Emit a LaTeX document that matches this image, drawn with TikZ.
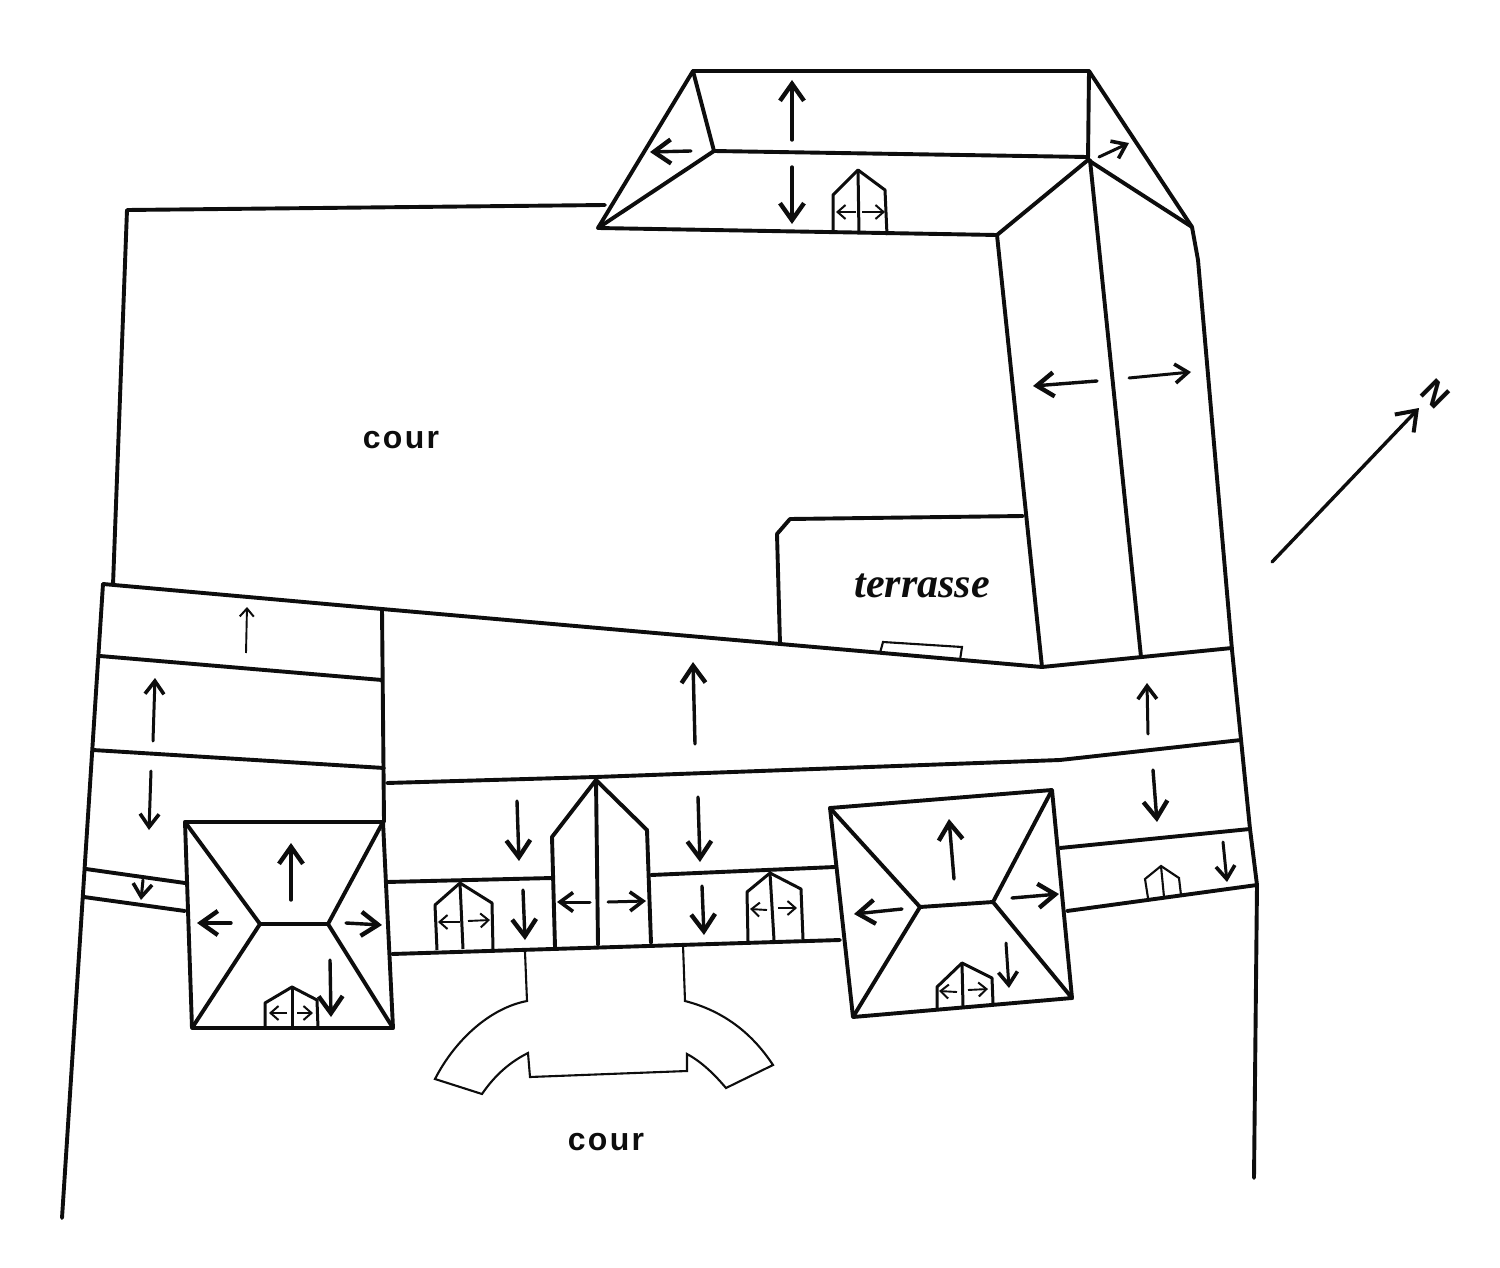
\documentclass[tikz,border=0pt]{standalone}
\usepackage{fontspec}
\setsansfont{Liberation Sans}
\newfontfamily\terrfont{Liberation Serif}
\usetikzlibrary{arrows.meta}
\definecolor{ink}{HTML}{0D0D0D}
\tikzset{
  wall/.style={draw=ink,line width=1.95pt,line join=round,line cap=round},
  fine/.style={draw=ink,line width=1.05pt,line join=miter},
  dormerline/.style={draw=ink,line width=1.5pt,line join=round},
  bigarrow/.style={draw=ink,line width=1.7pt,line cap=round,-{Straight Barb[length=8.5pt,width=12pt,line width=2.2pt]}},
  midarrow/.style={draw=ink,line width=1.5pt,line cap=round,-{Straight Barb[length=6.5pt,width=9.5pt,line width=1.8pt]}},
  tinyarrow/.style={draw=ink,line width=0.95pt,-{Straight Barb[length=4pt,width=7pt,line width=1pt]}},
  courlabel/.style={font=\sffamily\bfseries\fontsize{16}{18}\selectfont\addfontfeature{LetterSpace=7},text=ink,inner sep=0pt}
}
\begin{document}
\begin{tikzpicture}[x=0.5pt,y=-0.5pt]
\useasboundingbox (0,0) rectangle (1500,1268);
\fill[white] (0,0) rectangle (1500,1268);
% top wing roof
\draw[wall] (598,228)--(693,71)--(1089,71)--(1192,227);
\draw[wall] (693,71)--(714,151)--(1087,157);
\draw[wall] (598,228)--(714,151);
\draw[wall] (598,228)--(997,235);
\draw[wall] (1089,71)--(1088,160);
\draw[wall] (997,235)--(1088,160)--(1192,227);
% court wall
\draw[wall] (605,205)--(127,210)--(113,585);
% east wing
\draw[wall] (1090,160)--(1141,657);
\draw[wall] (997,235)--(1042,667);
\draw[wall] (1192,227)--(1198,260)--(1232,650)--(1250,829)--(1257,885)--(1254,1178);
% main ridge and left wing
\draw[wall] (103,584)--(62,1218);
\draw[wall] (103,584)--(382,609)--(1042,667)--(1232,648);
\draw[wall] (382,609)--(384,822);
\draw[wall] (100,656)--(382,680);
\draw[wall] (93,750)--(384,768);
\draw[wall] (86,869)--(185,883);
\draw[wall] (84,897)--(185,911);
% central band
\draw[wall] (387,783)--(596,777)--(1060,760)--(1241,740);
\draw[wall] (387,882)--(552,878);
\draw[wall] (651,875)--(835,867);
\draw[wall] (392,954)--(840,940);
\draw[wall] (1060,848)--(1250,829);
\draw[wall] (1067,911)--(1257,885);
% central gable
\draw[wall] (555,947)--(552,837)--(596,780)--(647,830)--(651,943);
\draw[wall] (596,780)--(598,945);
% left pavilion
\draw[wall] (185,822)--(383,822)--(393,1028)--(192,1028)--cycle;
\draw[wall] (185,822)--(260,924)--(192,1028);
\draw[wall] (383,822)--(328,924)--(393,1028);
\draw[wall] (260,924)--(328,924);
% right pavilion
\draw[wall] (830,808)--(1052,790)--(1072,998)--(853,1017)--cycle;
\draw[wall] (830,808)--(920,907)--(853,1017);
\draw[wall] (1052,790)--(993,902)--(1072,998);
\draw[wall] (920,907)--(993,902);
% terrace
\draw[wall] (1023,516)--(790,519)--(777,534)--(780,644);
\draw[fine] (880,653)--(883,642)--(962,647)--(960,660);
% entrance
\draw[fine] (525,952)--(527,1001) .. controls (490,1008) and (455,1040) .. (435,1079)
  --(482,1094) .. controls (495,1075) and (510,1062) .. (528,1053)
  --(530,1077)--(687,1071)--(687,1054) .. controls (702,1062) and (715,1075) .. (726,1088)
  --(773,1065) .. controls (750,1030) and (720,1010) .. (685,1001)--(683,945);
% dormers
\draw[dormerline] (833,233)--(833,195)--(858,170)--(885,190)--(887,235);
\draw[dormerline] (858,170)--(859,234);
\draw[dormerline] (437,950)--(435,905)--(460,883)--(492,903)--(493,949);
\draw[dormerline] (460,883)--(463,949);
\draw[dormerline] (748,941)--(747,892)--(770,873)--(801,889)--(803,939);
\draw[dormerline] (770,873)--(774,940);
\draw[dormerline] (265,1028)--(265,1003)--(292,987)--(317,1000)--(318,1028);
\draw[dormerline] (292,987)--(292,1028);
\draw[dormerline] (937,1008)--(937,987)--(962,963)--(992,978)--(993,1003);
\draw[dormerline] (962,963)--(963,1006);
\draw[fine] (1148,898)--(1145,879)--(1161,866)--(1179,878)--(1181,895);
\draw[fine] (1161,866)--(1164,897);
% dormer arrows
\draw[tinyarrow] (856,212)--(836,212);
\draw[tinyarrow] (862,212)--(885,212);
\draw[tinyarrow] (460,922)--(438,922);
\draw[tinyarrow] (468,921)--(490,920);
\draw[tinyarrow] (767,910)--(750,909);
\draw[tinyarrow] (778,908)--(797,908);
\draw[tinyarrow] (287,1013)--(269,1013);
\draw[tinyarrow] (297,1013)--(313,1013);
\draw[tinyarrow] (957,992)--(939,991);
\draw[tinyarrow] (968,990)--(988,989);
% large arrows
\draw[bigarrow] (792,140)--(792,80);
\draw[bigarrow] (792,167)--(792,224);
\draw[bigarrow] (691,151)--(650,152);
\draw[midarrow] (1099,157)--(1129,143);
\draw[bigarrow] (1097,381)--(1033,386);
\draw[midarrow] (1129,378)--(1191,372);
\draw[tinyarrow] (246,653)--(247,607);
\draw[midarrow] (153,741)--(155,678);
\draw[midarrow] (151,771)--(149,830);
\draw[midarrow] (143,880)--(141,900);
\draw[bigarrow] (695,744)--(693,662);
\draw[midarrow] (1148,734)--(1147,683);
\draw[bigarrow] (1153,770)--(1157,822);
\draw[bigarrow] (517,801)--(519,861);
\draw[bigarrow] (523,890)--(525,940);
\draw[midarrow] (590,902)--(557,902);
\draw[midarrow] (608,902)--(646,901);
\draw[bigarrow] (698,797)--(700,862);
\draw[bigarrow] (702,886)--(704,935);
\draw[bigarrow] (291,900)--(291,843);
\draw[bigarrow] (231,923)--(197,923);
\draw[bigarrow] (346,923)--(382,925);
\draw[bigarrow] (330,960)--(331,1017);
\draw[bigarrow] (954,879)--(949,819);
\draw[bigarrow] (902,909)--(854,914);
\draw[bigarrow] (1012,898)--(1059,894);
\draw[midarrow] (1006,943)--(1009,988);
\draw[midarrow] (1223,842)--(1227,882);
% north arrow
\node[font=\sffamily\bfseries\fontsize{17}{18}\selectfont,text=ink,rotate=-45,inner sep=0pt] (north) at (1435,394) {N};
\coordinate (northfoot) at (1272,562);
\draw[draw=ink,line width=1.7pt,line cap=round,-{Straight Barb[length=9pt,width=13pt,line width=2pt]}] (northfoot)--(1419,408);
% labels
\node[courlabel] (courN) at (401,440) {cour};
\node[courlabel] (courS) at (606,1142) {cour};
\node[font=\terrfont\bfseries\itshape\fontsize{21}{22}\selectfont,text=ink,inner sep=0pt] (terr) at (922,586) {terrasse};
\end{tikzpicture}
\end{document}
